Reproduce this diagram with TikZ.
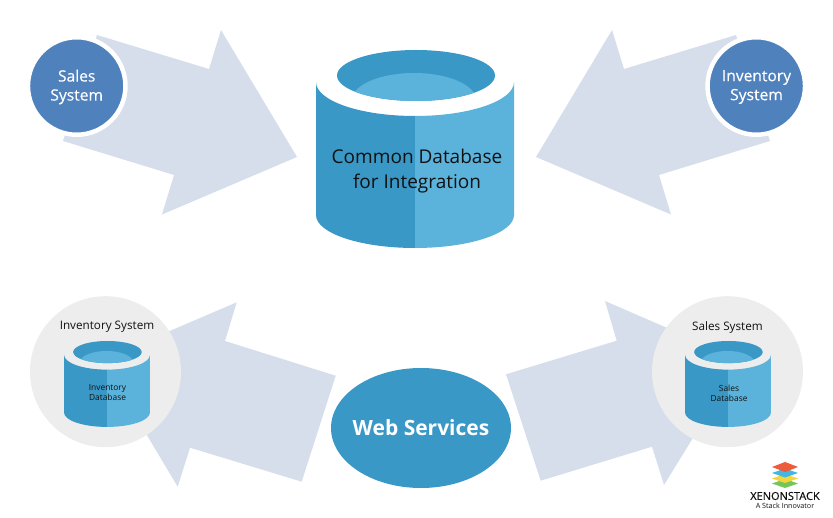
\documentclass[tikz,border=0pt]{standalone}
\usepackage{fontspec}
\setmainfont{Open Sans}
\newfontface\semiface{Open Sans}[FakeBold=0.35]
\usetikzlibrary{shapes.geometric}
\definecolor{arrowfill}{HTML}{D6DDEB}
\definecolor{sysblue}{HTML}{4F81BD}
\definecolor{dbdark}{HTML}{3A98C6}
\definecolor{dblight}{HTML}{5BB3DB}
\definecolor{ringgrey}{HTML}{EDEDED}
\definecolor{inktext}{HTML}{111111}
\definecolor{logored}{HTML}{EE5A3A}
\definecolor{logoblue}{HTML}{45B5E3}
\definecolor{logoyellow}{HTML}{F3D53C}
\definecolor{logogreen}{HTML}{72C65A}
\tikzset{
  x=1pt,y=-1pt,
  bigarrow/.style={fill=arrowfill,draw=none},
  syscircle/.style={circle,fill=sysblue,draw=white,line width=4.5pt,minimum size=97.5pt,inner sep=0pt},
  systext/.style={text=white,align=center,inner sep=0pt,font=\fontsize{15.6}{19}\selectfont\semiface},
  greycircle/.style={circle,fill=ringgrey,draw=none,minimum size=151pt,inner sep=0pt},
  webnode/.style={ellipse,fill=dbdark,draw=none,minimum width=180pt,minimum height=120pt,inner sep=0pt},
  webtext/.style={text=white,inner sep=0pt,font=\fontsize{21}{25}\selectfont\bfseries},
  cyltext/.style={align=center,text=inktext,inner sep=0pt},
}
\newcommand{\cylinder}[3]{%
  \begin{scope}[shift={(#1,#2)},scale=#3]
    \fill[dbdark] (-99,32) .. controls (-99,50.8) and (-54.7,66) .. (0,66) -- (0,198)
      .. controls (-54.7,198) and (-99,183.2) .. (-99,165) -- cycle;
    \fill[dblight] (99,32) .. controls (99,50.8) and (54.7,66) .. (0,66) -- (0,198)
      .. controls (54.7,198) and (99,183.2) .. (99,165) -- cycle;
    \fill[dbdark] (1,25.5) ellipse [x radius=79,y radius=25.5];
    \begin{scope}
      \clip (1,25.5) ellipse [x radius=79,y radius=25.5];
      \fill[dblight] (-1,50) ellipse [x radius=62,y radius=27];
    \end{scope}
  \end{scope}}
\newcommand{\logolayer}[3]{\fill[#3] (772,#1) -- (785,#1-#2) -- (798,#1) -- (785,#1+#2) -- cycle;}
\begin{document}
\begin{tikzpicture}
\useasboundingbox (0,0) rectangle (833,518);
% big arrows
\fill[bigarrow] (97,35) -- (209,69) -- (221,30) -- (297,157) -- (162,214.5) -- (174,175) -- (63,141) -- cycle;
\fill[bigarrow] (736,35) -- (624,69) -- (612,30) -- (536,157) -- (671,214.5) -- (659,175) -- (770,141) -- cycle;
\fill[bigarrow] (335.7,375.7) -- (225,341) -- (236.7,302.3) -- (102,360) -- (177.7,486.7) -- (190,447.7) -- (301.7,481.7) -- cycle;
\fill[bigarrow] (506,374.3) -- (616.7,340.7) -- (605,301) -- (741,360) -- (664,485) -- (652,446.7) -- (540.7,480.7) -- cycle;
% system circles
\node[syscircle] (sales) at (76.7,86) {};
\node[syscircle] (inventory) at (756.3,86) {};
\node[systext] (salestext) at (76.7,87) {Sales\\System};
\node[systext] (inventorytext) at (756.5,87) {Inventory\\System};
% main cylinder
\cylinder{415}{50}{1}
\node[cyltext,font=\fontsize{19}{25}\selectfont] (common) at (417,171) {Common Database\\for Integration};
% grey circles
\node[greycircle] (invcircle) at (105.5,371.7) {};
\node[greycircle] (salescircle) at (727.5,371.7) {};
\cylinder{107}{341}{.434}
\cylinder{728}{341}{.434}
\node[cyltext,font=\fontsize{11.7}{14}\selectfont] (invsys) at (107,327) {Inventory System};
\node[cyltext,font=\fontsize{11.7}{14}\selectfont] (salessys) at (727.5,327) {Sales System};
\node[cyltext,font=\fontsize{8.4}{10}\selectfont] (invdb) at (107.5,393) {Inventory\\Database};
\node[cyltext,font=\fontsize{8.4}{10}\selectfont] (salesdb) at (729,393) {Sales\\Database};
% web services
\node[webnode] (web) at (421,428) {};
\node[webtext] (webtext) at (421,428) {Web Services};
% logo
\logolayer{483.5}{4.5}{logogreen}
\logolayer{478.5}{4.5}{logoyellow}
\logolayer{473}{4.5}{logoblue}
\logolayer{467}{5}{logored}
\node[inktext,inner sep=0pt,font=\fontsize{11}{12}\selectfont\semiface] (xeno) at (785,496) {XENONSTACK};
\node[inktext,inner sep=0pt,font=\fontsize{7.2}{9}\selectfont] (tag) at (785,505.5) {A Stack Innovator};
\end{tikzpicture}
\end{document}
